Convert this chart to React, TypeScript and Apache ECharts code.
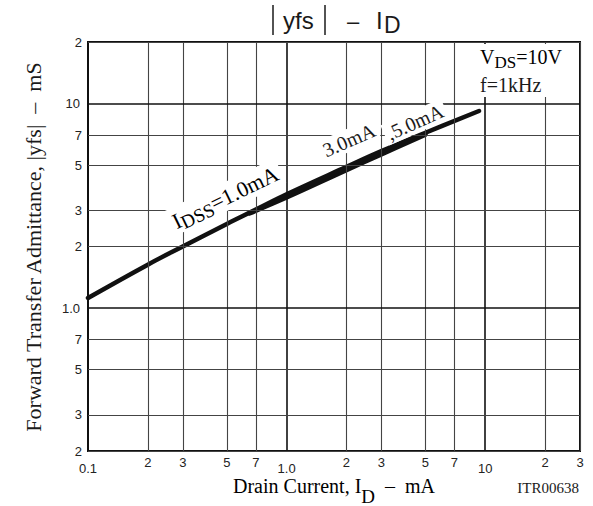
import React, { useEffect, useRef } from "react";
import * as echarts from "echarts";

// |yfs| curve (IDSS family), drain current in mA vs admittance in mS
const curveX = [0.1, 0.2, 0.3, 0.5, 0.7, 1.0, 2.0, 3.0, 5.0, 9.3];
const curveY = [1.12, 1.63, 2.0, 2.58, 3.03, 3.6, 4.9, 5.85, 7.2, 9.2];
// lower neighbouring curve that thickens the band between ~0.65 and 5 mA
const bandX = [0.65, 1.0, 2.0, 3.0, 5.0];
const bandY = [2.9, 3.47, 4.72, 5.64, 7.05];

// grid values and their tick labels
const xMajor = [0.1, 1, 10];
const xMajorLabels = ["0.1", "1.0", "10"];
const xMinor = [0.2, 0.3, 0.5, 0.7, 2, 3, 5, 7, 20, 30];
const xMinorLabels = ["2", "3", "5", "7", "2", "3", "5", "7", "2", "3"];
const yMajor = [1, 10];
const yMajorLabels = ["1.0", "10"];
const yMinor = [0.2, 0.3, 0.5, 0.7, 2, 3, 5, 7, 20];
const yMinorLabels = ["2", "3", "5", "7", "2", "3", "5", "7", "2"];

const serif = "'Liberation Serif', 'Times New Roman', serif";
const sans = "'Liberation Sans', Arial, sans-serif";
const ink = "#1a1a1a";

export default function App() {
  const ref = useRef<HTMLDivElement>(null);
  useEffect(() => {
    document.body.style.margin = "0";
    const chart = echarts.init(ref.current!, null, { renderer: "svg" });
    const majorStyle = { color: "#111", width: 1.6, type: "solid" as const };
    const minorStyle = { color: "#444", width: 1.1, type: "solid" as const };
    const lbl = (text: string, dist: number) => ({
      show: true,
      position: "start" as const,
      formatter: text,
      distance: dist,
      color: "#222",
      fontSize: 13,
      fontFamily: sans,
    });
    const markData: any[] = [];
    xMajor.forEach((v, i) => markData.push({ xAxis: v, lineStyle: majorStyle, label: lbl(xMajorLabels[i], 11) }));
    xMinor.forEach((v, i) => markData.push({ xAxis: v, lineStyle: minorStyle, label: lbl(xMinorLabels[i], 5) }));
    yMajor.forEach((v, i) => markData.push({ yAxis: v, lineStyle: majorStyle, label: lbl(yMajorLabels[i], 8) }));
    yMinor.forEach((v, i) => markData.push({ yAxis: v, lineStyle: minorStyle, label: lbl(yMinorLabels[i], 6) }));

    const subRich = (main: number, sub: number, shift: number, lh: number, subLh: number) => ({
      m: { fontSize: main, fontFamily: serif, color: ink, lineHeight: lh, verticalAlign: "top" },
      s: { fontSize: sub, fontFamily: serif, color: ink, lineHeight: subLh, verticalAlign: "top", padding: [shift, 0, 0, 0] },
    });

    const option: any = {
      animation: false,
      grid: { left: 88, top: 42, width: 492, height: 409, show: true, borderColor: "#111", borderWidth: 2, backgroundColor: "#fff" },
      xAxis: {
        type: "log", logBase: 10, min: 0.1, max: 30,
        axisLine: { show: false }, axisTick: { show: false }, axisLabel: { show: false }, splitLine: { show: false },
      },
      yAxis: {
        type: "log", logBase: 10, min: 0.2, max: 20,
        axisLine: { show: false }, axisTick: { show: false }, axisLabel: { show: false }, splitLine: { show: false },
      },
      series: [
        {
          type: "line", data: [], z: 1, silent: true,
          markLine: { silent: true, symbol: ["none", "none"], animation: false, data: markData },
        },
        {
          type: "line", name: "IDSS=3.0mA", z: 3, smooth: 0.4, symbol: "none",
          data: bandX.map((x, i) => [x, bandY[i]]),
          lineStyle: { color: "#111", width: 4.5, cap: "round" },
        },
        {
          type: "line", name: "IDSS=1.0mA", z: 4, smooth: 0.4, symbol: "none",
          data: curveX.map((x, i) => [x, curveY[i]]),
          lineStyle: { color: "#111", width: 4.5, cap: "round" },
        },
      ],
      graphic: [
        // title |yfs| - ID
        { type: "line", z: 100, shape: { x1: 273, y1: 5, x2: 273, y2: 35 }, style: { stroke: ink, lineWidth: 1.5 } },
        { type: "line", z: 100, shape: { x1: 325, y1: 5, x2: 325, y2: 35 }, style: { stroke: ink, lineWidth: 1.5 } },
        { type: "text", z: 100, x: 283, y: 8, style: { text: "yfs", font: `24px ${sans}`, fill: ink, verticalAlign: "top" } },
        { type: "text", z: 100, x: 353, y: 21, style: { text: "–", font: `22px ${sans}`, fill: ink, align: "center", verticalAlign: "middle" } },
        { type: "text", z: 100, x: 376, y: 8, style: { text: "I", font: `24px ${sans}`, fill: ink, verticalAlign: "top" } },
        { type: "text", z: 100, x: 384, y: 13, style: { text: "D", font: `23px ${sans}`, fill: ink, verticalAlign: "top" } },
        // y axis name
        {
          type: "text", z: 100, x: 33, y: 247, rotation: Math.PI / 2,
          style: { text: "Forward Transfer Admittance, |yfs|  –  mS", font: `22px ${serif}`, fill: ink, align: "center", verticalAlign: "middle" },
        },
        // x axis name
        {
          type: "text", z: 100, x: 334, y: 476,
          style: { text: "{m|Drain Current, I}{s|D}{m|  –  mA}", rich: subRich(20, 19, 11, 18, 14), align: "center", verticalAlign: "top" },
        },
        { type: "text", z: 100, x: 579, y: 488, style: { text: "ITR00638", font: `15px ${serif}`, fill: ink, align: "right", verticalAlign: "middle" } },
        // conditions box
        { type: "rect", z: 99, shape: { x: 478, y: 44, width: 100, height: 53 }, style: { fill: "#fff" } },
        {
          type: "text", z: 100, x: 480, y: 47,
          style: { text: "{m|V}{s|DS}{m|=10V}", rich: subRich(20, 17, 7, 22, 22), verticalAlign: "top" },
        },
        { type: "text", z: 100, x: 480, y: 85, style: { text: "f=1kHz", font: `20px ${serif}`, fill: ink, verticalAlign: "middle" } },
        // curve labels
        {
          type: "text", z: 100, x: 225, y: 197, rotation: 0.45,
          style: { text: "{m|I}{s|DSS}{m|=1.0mA}", rich: subRich(22, 19, 6, 24, 24), align: "center", verticalAlign: "middle", backgroundColor: "#fff", padding: [3, 4, 0, 4] },
        },
        {
          type: "text", z: 100, x: 349, y: 140, rotation: 0.41,
          style: { text: "3.0mA", font: `20px ${serif}`, fill: ink, align: "center", verticalAlign: "middle", backgroundColor: "#fff", padding: [2, 3, 0, 3] },
        },
        {
          type: "text", z: 100, x: 415, y: 122, rotation: 0.42,
          style: { text: ",5.0mA", font: `20px ${serif}`, fill: ink, align: "center", verticalAlign: "middle", backgroundColor: "#fff", padding: [2, 3, 0, 3] },
        },
      ],
    };
    chart.setOption(option);
    return () => chart.dispose();
  }, []);
  return <div ref={ref} style={{ width: 593, height: 506 }} />;
}
